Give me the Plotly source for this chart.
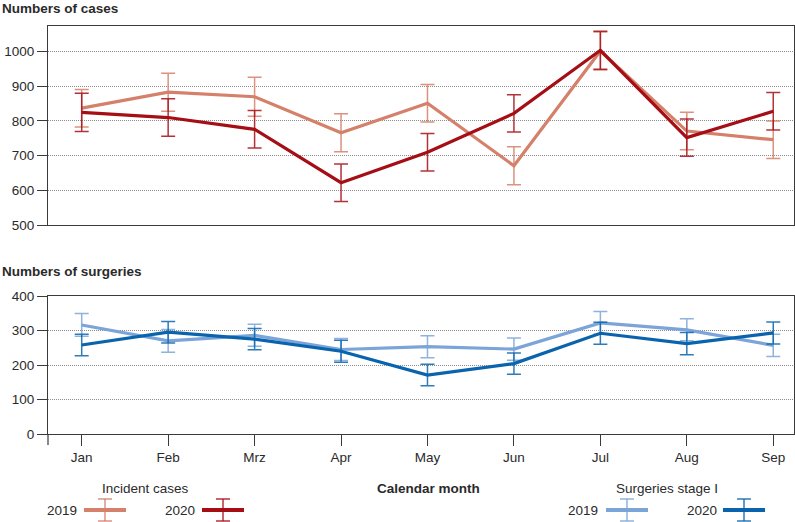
import plotly.graph_objects as go

months = ["Jan", "Feb", "Mrz", "Apr", "May", "Jun", "Jul", "Aug", "Sep"]

cases_2019 = [837, 883, 870, 766, 851, 671, 1002, 771, 746]
cases_2019_err = [54, 55, 56, 55, 54, 55, 55, 54, 54]
cases_2020 = [825, 810, 776, 622, 710, 822, 1004, 752, 828]
cases_2020_err = [55, 54, 54, 54, 54, 54, 55, 54, 54]

surg_2019 = [316, 270, 286, 245, 253, 246, 322, 302, 257]
surg_2019_err = [33, 33, 32, 32, 32, 32, 33, 32, 32]
surg_2020 = [258, 295, 275, 240, 171, 204, 292, 262, 293]
surg_2020_err = [31, 31, 31, 32, 31, 31, 32, 32, 32]

C19 = "#d5806a"
C20 = "#a60e16"
S19 = "#7ba4d8"
S20 = "#0a64ad"

W, H = 795, 522
L, R, T, B = 48, 1, 26, 88
PW, PH = W - L - R, H - T - B


def px(x):
    return (x - L) / PW


def py(y):
    return (H - B - y) / PH


def rgba(hexc, a):
    h = hexc.lstrip("#")
    r, g, b = int(h[0:2], 16), int(h[2:4], 16), int(h[4:6], 16)
    return f"rgba({r},{g},{b},{a})"


fig = go.Figure()
xs = list(range(len(months)))


def add(y, err, color, xa, ya):
    fig.add_trace(go.Scatter(
        x=xs, y=y, mode="lines", xaxis=xa, yaxis=ya,
        line=dict(color=color, width=3.2),
        error_y=dict(type="data", array=err, visible=True,
                     color=rgba(color, 0.85), thickness=1.5, width=7),
        showlegend=False, hoverinfo="skip"))


add(cases_2019, cases_2019_err, C19, "x", "y")
add(cases_2020, cases_2020_err, C20, "x", "y")
add(surg_2019, surg_2019_err, S19, "x2", "y2")
add(surg_2020, surg_2020_err, S20, "x2", "y2")

font = dict(family="Liberation Sans, Arial, sans-serif", size=13.5, color="#2a2a2a")
xr = [-0.39, 8.24]
top_dom = [py(225), 1.0]
bot_dom = [0.0, py(296)]

axis_common = dict(showline=True, linecolor="#3a3a3a", linewidth=1.2, mirror=True)
grid = dict(showgrid=True, gridcolor="#8c8c8c", griddash="1px,1px", gridwidth=1)

fig.update_layout(
    width=W, height=H, margin=dict(l=L, r=R, t=T, b=B),
    paper_bgcolor="white", plot_bgcolor="white", font=font,
    xaxis=dict(domain=[0, 1], range=xr, anchor="y", showticklabels=False,
               ticks="", showgrid=False, zeroline=False, **axis_common),
    yaxis=dict(domain=top_dom, range=[500, 1074], anchor="x",
               tickvals=[500, 600, 700, 800, 900, 1000], ticks="outside",
               ticklen=10, tickcolor="#3a3a3a", tickwidth=1.2,
               zeroline=False, **grid, **axis_common),
    xaxis2=dict(domain=[0, 1], range=xr, anchor="y2", tickvals=xs, ticktext=months,
                ticks="outside", ticklen=11, tickcolor="#3a3a3a", tickwidth=1.2,
                showgrid=False, zeroline=False, **axis_common),
    yaxis2=dict(domain=bot_dom, range=[0, 400], anchor="x2",
                tickvals=[0, 100, 200, 300, 400], ticks="outside",
                ticklen=10, tickcolor="#3a3a3a", tickwidth=1.2,
                zeroline=False, **grid, **axis_common),
)

ann = []
shapes = []


def text(x, y, s, xanchor="center", bold=False):
    ann.append(dict(xref="paper", yref="paper", x=px(x), y=py(y), text=f"<b>{s}</b>" if bold else s,
                    showarrow=False, xanchor=xanchor, yanchor="middle", font=font))


text(0, 9, "Numbers of cases", "left", True)
text(0, 271, "Numbers of surgeries", "left", True)
text(428, 488, "Calendar month", "center", True)
text(145, 488, "Incident cases")
text(667, 488, "Surgeries stage I")


def legend_item(x_text_right, x0, x1, color, label):
    text(x_text_right, 510, label, "right")
    shapes.append(dict(type="line", xref="paper", yref="paper", x0=px(x0), x1=px(x1),
                       y0=py(510), y1=py(510), line=dict(color=color, width=4)))
    xc = (x0 + x1) / 2
    ec = rgba(color, 0.85)
    shapes.append(dict(type="line", xref="paper", yref="paper", x0=px(xc), x1=px(xc),
                       y0=py(499), y1=py(521), line=dict(color=ec, width=1.5)))
    for yy in (499, 521):
        shapes.append(dict(type="line", xref="paper", yref="paper", x0=px(xc - 7), x1=px(xc + 7),
                           y0=py(yy), y1=py(yy), line=dict(color=ec, width=1.5)))


legend_item(79, 84, 126, C19, "2019")
legend_item(197, 202, 244, C20, "2020")
legend_item(600, 606, 648, S19, "2019")
legend_item(719, 723, 765, S20, "2020")

# left frame extension below lower panel
shapes.append(dict(type="line", xref="paper", yref="paper", x0=0, x1=0,
                   y0=0, y1=py(445), line=dict(color="#3a3a3a", width=1.2)))

fig.update_layout(annotations=ann, shapes=shapes)
fig.write_html("out.html", config={"displayModeBar": False},
               post_script="document.body.style.margin='0';document.body.style.overflow='hidden';")
